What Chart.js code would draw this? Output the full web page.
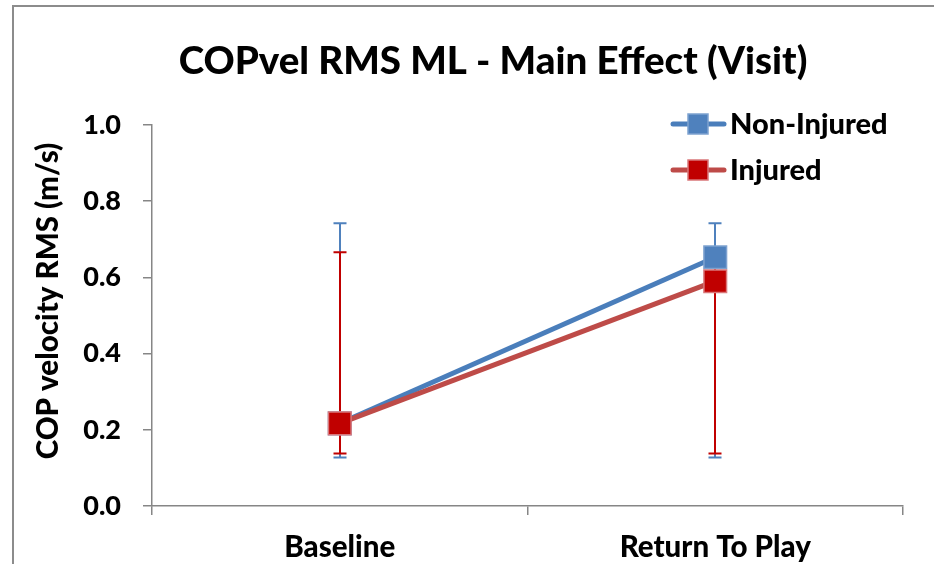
<!DOCTYPE html>
<html>
<head>
<meta charset="utf-8">
<script src="https://cdn.jsdelivr.net/npm/chart.js@4"></script>
<style>
  html, body { margin: 0; padding: 0; background: #fff; overflow: hidden; }
  #frame { position: absolute; left: 12px; top: 5px; width: 1000px; height: 700px; border: 2px solid #8c8c8c; box-sizing: border-box; }
  #wrap { position: absolute; left: 0; top: 0; width: 934px; height: 564px; }
</style>
</head>
<body>
<div id="frame"></div>
<div id="wrap"><canvas id="chart"></canvas></div>
<script>
const visits = ["Baseline", "Return To Play"];

const nonInjuredMean  = [0.217, 0.653];
const nonInjuredUpper = [0.742, 0.742];
const nonInjuredLower = [0.127, 0.127];

const injuredMean  = [0.217, 0.590];
const injuredUpper = [0.666, 0.666];
const injuredLower = [0.138, 0.138];

const yTicks = [0, 0.2, 0.4, 0.6, 0.8, 1.0];

const FONT = "Lato, 'Open Sans', sans-serif";
const WEIGHT = "900";
const BLUE = "#4a7ebb", BLUE_DARK = "#4f81bd";
const RED = "#be4b48", RED_DARK = "#c00000";

// error bars, drawn under the lines and markers
const errorBars = {
  id: "errorBars",
  beforeDatasetsDraw(chart) {
    const { ctx, scales: { x, y } } = chart;
    const sets = [
      { up: nonInjuredUpper, lo: nonInjuredLower, color: BLUE_DARK },
      { up: injuredUpper, lo: injuredLower, color: RED_DARK },
    ];
    ctx.save();
    ctx.lineWidth = 2;
    sets.forEach(s => {
      ctx.strokeStyle = s.color;
      visits.forEach((v, i) => {
        const px = Math.round(x.getPixelForValue(i));
        const top = y.getPixelForValue(s.up[i]);
        const bot = y.getPixelForValue(s.lo[i]);
        ctx.beginPath();
        ctx.moveTo(px, top); ctx.lineTo(px, bot);
        ctx.moveTo(px - 6.5, top); ctx.lineTo(px + 6.5, top);
        ctx.moveTo(px - 6.5, bot); ctx.lineTo(px + 6.5, bot);
        ctx.stroke();
      });
    });
    ctx.restore();
  }
};

// title, y-axis title and legend
const decorations = {
  id: "decorations",
  afterDraw(chart) {
    const { ctx } = chart;
    ctx.save();
    ctx.fillStyle = "#000";
    ctx.textAlign = "center";
    ctx.textBaseline = "middle";
    ctx.font = WEIGHT + " 38.5px " + FONT;
    ctx.fillText("COPvel RMS ML - Main Effect (Visit)", 493, 62);

    ctx.save();
    ctx.translate(48, 301);
    ctx.rotate(-Math.PI / 2);
    ctx.font = WEIGHT + " 29.5px " + FONT;
    ctx.fillText("COP velocity RMS (m/s)", 0, 0);
    ctx.restore();

    const items = [
      { label: "Non-Injured", line: BLUE, fill: BLUE_DARK, border: "#7ea2d0", y: 124 },
      { label: "Injured", line: RED, fill: RED_DARK, border: "#d9777a", y: 170 },
    ];
    items.forEach(it => {
      ctx.strokeStyle = it.line;
      ctx.lineWidth = 5;
      ctx.lineCap = "round";
      ctx.beginPath();
      ctx.moveTo(673, it.y); ctx.lineTo(724, it.y);
      ctx.stroke();
      ctx.fillStyle = it.fill;
      ctx.fillRect(688, it.y - 10, 20, 20);
      ctx.strokeStyle = it.border;
      ctx.lineWidth = 1.5;
      ctx.strokeRect(688, it.y - 10, 20, 20);
      ctx.fillStyle = "#000";
      ctx.textAlign = "left";
      ctx.font = WEIGHT + " 29px " + FONT;
      ctx.fillText(it.label, 730, it.y + 1);
    });
    ctx.restore();
  }
};

new Chart(document.getElementById("chart"), {
  type: "line",
  data: {
    labels: visits,
    datasets: [
      {
        label: "Non-Injured",
        data: nonInjuredMean,
        borderColor: BLUE,
        borderWidth: 5,
        pointStyle: "rect",
        pointRadius: 16,
        pointBackgroundColor: BLUE_DARK,
        pointBorderColor: "#7ea2d0",
        pointBorderWidth: 1.5,
        order: 1,
      },
      {
        label: "Injured",
        data: injuredMean,
        borderColor: RED,
        borderWidth: 5,
        pointStyle: "rect",
        pointRadius: 16,
        pointBackgroundColor: RED_DARK,
        pointBorderColor: "#d9777a",
        pointBorderWidth: 1.5,
        order: 0,
      },
    ],
  },
  options: {
    responsive: true,
    maintainAspectRatio: false,
    animation: false,
    layout: { padding: { top: 125, right: 31, left: 0, bottom: 0 } },
    plugins: {
      legend: { display: false },
      title: { display: false },
      tooltip: { enabled: false },
    },
    scales: {
      x: {
        offset: true,
        grid: { offset: true, drawOnChartArea: false, drawTicks: true, tickLength: 9, color: "#868686", lineWidth: 1.5 },
        border: { color: "#868686", width: 1.5 },
        ticks: { color: "#000", font: { family: FONT, size: 29.5, weight: WEIGHT }, padding: 15, maxRotation: 0 },
        afterFit: s => { s.height = 58; },
      },
      y: {
        min: 0,
        max: 1,
        afterBuildTicks: s => { s.ticks = yTicks.map(v => ({ value: v })); },
        grid: { drawOnChartArea: false, drawTicks: true, tickLength: 9, color: "#868686", lineWidth: 1.5 },
        border: { color: "#868686", width: 1.5 },
        ticks: { color: "#000", font: { family: FONT, size: 27, weight: WEIGHT }, padding: 22, callback: v => v.toFixed(1) },
        afterFit: s => { s.width = 152; },
      },
    },
  },
  plugins: [errorBars, decorations],
});
</script>
</body>
</html>
